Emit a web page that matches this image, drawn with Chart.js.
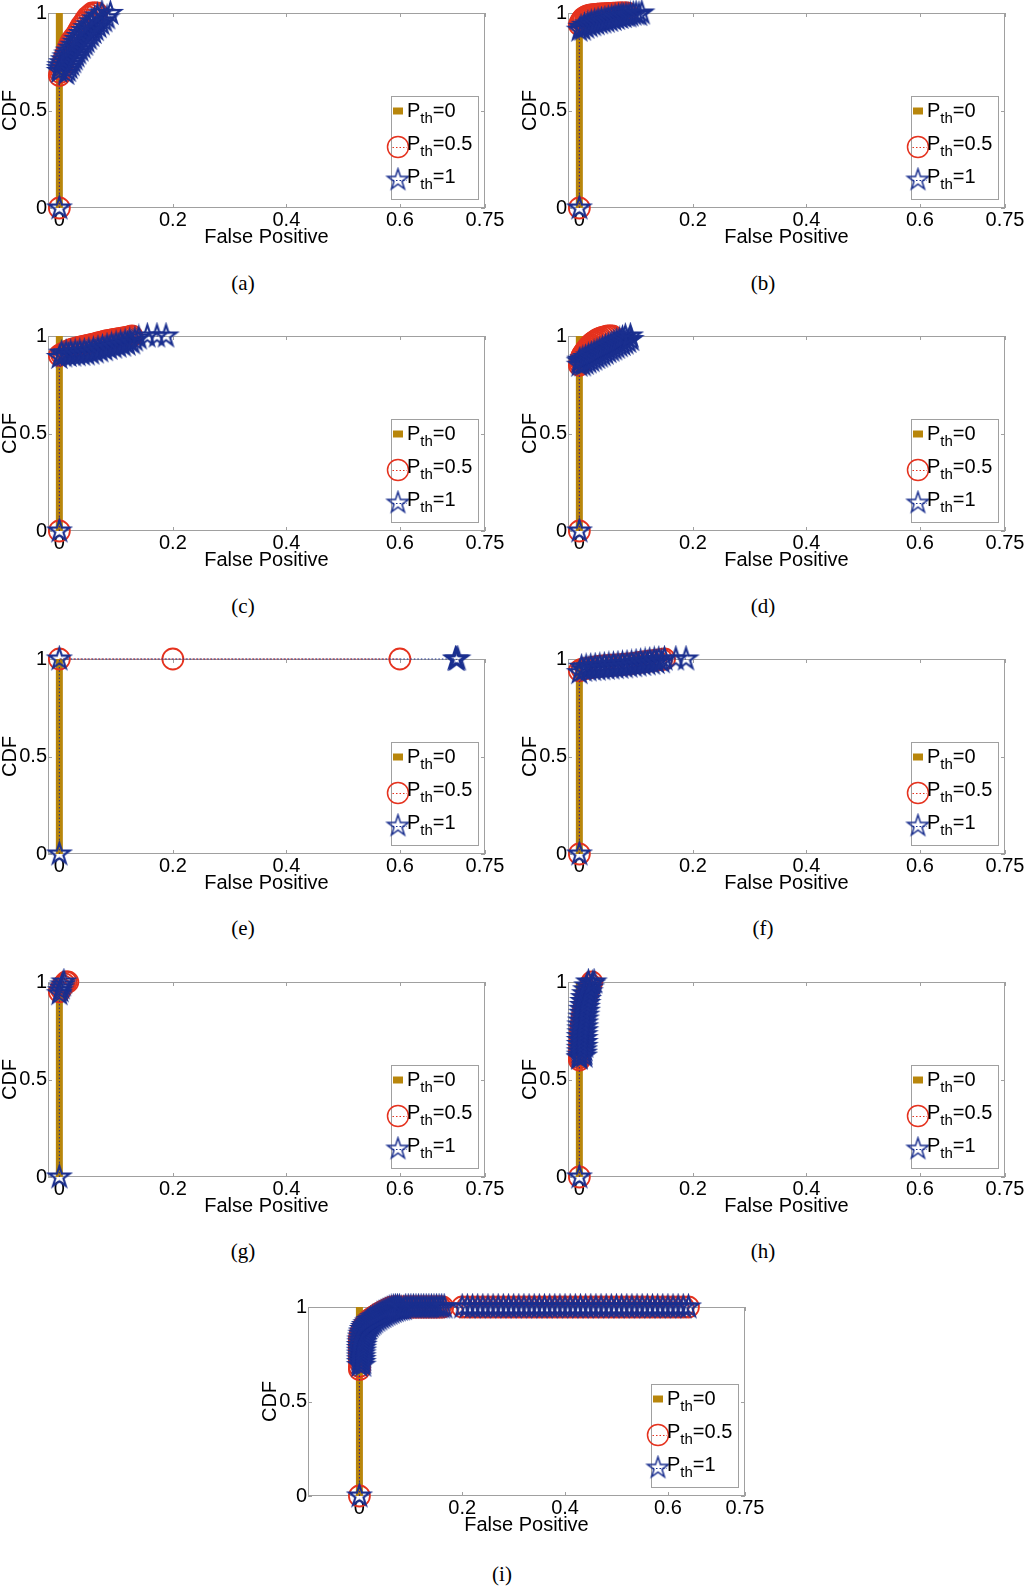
<!DOCTYPE html>
<html><head><meta charset="utf-8">
<script src="https://cdn.jsdelivr.net/npm/chart.js@4.4.1/dist/chart.umd.min.js"></script>
<style>
body{margin:0;background:#fff;width:1024px;height:1587px;position:relative;overflow:hidden}
canvas{position:absolute}
.cap{position:absolute;font-family:"Liberation Serif","Times New Roman",serif;font-size:21px;transform:translate(-50%,-50%);color:#000}
</style></head><body>
<script>
// ---------- data ----------
const xTicks = [0, 0.2, 0.4, 0.6, 0.75];
const yTicks = [0, 0.5, 1];
const legendVals = ['0', '0.5', '1'];
const xTitle = 'False Positive';
const yTitle = 'CDF';
const captions = ['(a)', '(b)', '(c)', '(d)', '(e)', '(f)', '(g)', '(h)', '(i)'];

// P_th = 0 (all false positives are zero)
const th0X = [0, 0];
const th0Y = [0, 1];

// (a)
const aRedX = [0, 0, 0.0015, 0.003, 0.0045, 0.006, 0.0075, 0.009, 0.011, 0.013, 0.015, 0.017, 0.019, 0.022, 0.026, 0.03, 0.033, 0.036, 0.039, 0.043, 0.046, 0.05, 0.054, 0.058, 0.062, 0.066];
const aRedY = [0, 0.68, 0.695, 0.71, 0.725, 0.74, 0.755, 0.77, 0.785, 0.8, 0.815, 0.83, 0.845, 0.86, 0.875, 0.89, 0.905, 0.92, 0.935, 0.95, 0.965, 0.98, 0.99, 1, 1, 1];
const aBlueX = [0, 0, 0.012, 0, 0.015, 0.001, 0.018, 0.004, 0.021, 0.007, 0.024, 0.01, 0.027, 0.013, 0.03, 0.016, 0.033, 0.02, 0.037, 0.024, 0.041, 0.028, 0.045, 0.031, 0.048, 0.035, 0.052, 0.039, 0.056, 0.043, 0.06, 0.047, 0.064, 0.052, 0.069, 0.057, 0.074, 0.062, 0.079, 0.067, 0.084, 0.075, 0.09];
const aBlueY = [0, 0.7, 0.69, 0.715, 0.705, 0.73, 0.72, 0.745, 0.735, 0.76, 0.75, 0.775, 0.765, 0.79, 0.78, 0.805, 0.795, 0.82, 0.81, 0.835, 0.825, 0.85, 0.84, 0.865, 0.855, 0.88, 0.87, 0.895, 0.885, 0.91, 0.9, 0.925, 0.915, 0.94, 0.93, 0.955, 0.945, 0.97, 0.96, 0.985, 0.975, 1, 0.998];
// (b)
const bRedX = [0, 0, 0.002, 0.004, 0.006, 0.008, 0.011, 0.014, 0.017, 0.02, 0.024, 0.028, 0.032, 0.036, 0.04, 0.044, 0.048, 0.052, 0.056, 0.06, 0.064, 0.068, 0.072, 0.076, 0.08, 0.084];
const bRedY = [0, 0.94, 0.952, 0.962, 0.97, 0.976, 0.981, 0.985, 0.988, 0.99, 0.992, 0.993, 0.994, 0.995, 0.996, 0.997, 0.997, 0.998, 0.998, 0.999, 0.999, 1, 1, 1, 1, 1];
const bBlueX = [0, 0, 0.003, 0.006, 0.009, 0.012, 0.015, 0.018, 0.021, 0.024, 0.027, 0.03, 0.033, 0.036, 0.039, 0.042, 0.045, 0.048, 0.051, 0.054, 0.057, 0.06, 0.063, 0.066, 0.069, 0.072, 0.075, 0.078, 0.082, 0.086, 0.09, 0.095, 0.1, 0.105, 0.11];
const bBlueY = [0, 0.912, 0.927, 0.917, 0.937, 0.927, 0.944, 0.934, 0.95, 0.94, 0.955, 0.945, 0.96, 0.95, 0.964, 0.954, 0.968, 0.958, 0.972, 0.962, 0.976, 0.967, 0.98, 0.972, 0.983, 0.977, 0.986, 0.982, 0.988, 0.985, 0.99, 0.994, 0.996, 0.992, 1];
// (c)
const cRedX = [0, 0, 0.004, 0.008, 0.012, 0.016, 0.02, 0.024, 0.028, 0.032, 0.036, 0.04, 0.044, 0.048, 0.052, 0.056, 0.06, 0.064, 0.068, 0.072, 0.076, 0.08, 0.084, 0.088, 0.092, 0.096, 0.1, 0.104, 0.108, 0.112, 0.116, 0.12, 0.124, 0.128];
const cRedY = [0, 0.9, 0.907, 0.913, 0.919, 0.925, 0.93, 0.934, 0.937, 0.94, 0.943, 0.946, 0.948, 0.95, 0.953, 0.956, 0.958, 0.961, 0.964, 0.967, 0.97, 0.973, 0.976, 0.978, 0.98, 0.982, 0.984, 0.986, 0.988, 0.99, 0.992, 0.994, 0.997, 1];
const cBlueX = [0, 0, 0.004, 0.008, 0.012, 0.016, 0.02, 0.024, 0.028, 0.032, 0.036, 0.04, 0.044, 0.048, 0.052, 0.056, 0.06, 0.064, 0.068, 0.072, 0.076, 0.08, 0.084, 0.088, 0.092, 0.096, 0.1, 0.104, 0.108, 0.112, 0.116, 0.12, 0.124, 0.128, 0.133, 0.14, 0.155, 0.172, 0.188];
const cBlueY = [0, 0.89, 0.912, 0.898, 0.914, 0.9, 0.916, 0.902, 0.918, 0.904, 0.92, 0.906, 0.922, 0.908, 0.925, 0.912, 0.93, 0.918, 0.936, 0.924, 0.942, 0.93, 0.948, 0.937, 0.954, 0.943, 0.96, 0.948, 0.965, 0.953, 0.97, 0.958, 0.975, 0.965, 0.98, 0.99, 1, 1, 1];
// (d)
const dRedX = [0, 0, 0.001, 0.002, 0.003, 0.004, 0.005, 0.006, 0.008, 0.01, 0.012, 0.014, 0.016, 0.018, 0.02, 0.023, 0.026, 0.029, 0.032, 0.035, 0.038, 0.042, 0.046, 0.05, 0.054, 0.058];
const dRedY = [0, 0.85, 0.862, 0.874, 0.884, 0.892, 0.899, 0.905, 0.913, 0.921, 0.929, 0.937, 0.944, 0.951, 0.957, 0.965, 0.971, 0.977, 0.982, 0.986, 0.99, 0.994, 0.997, 1, 1, 1];
const dBlueX = [0, 0, 0, 0.006, 0.001, 0.011, 0.006, 0.016, 0.011, 0.021, 0.016, 0.026, 0.021, 0.031, 0.026, 0.036, 0.031, 0.041, 0.036, 0.046, 0.041, 0.051, 0.046, 0.056, 0.051, 0.061, 0.056, 0.066, 0.061, 0.071, 0.066, 0.076, 0.071, 0.081, 0.076, 0.086, 0.081, 0.091, 0.09];
const dBlueY = [0, 0.85, 0.868, 0.852, 0.876, 0.86, 0.883, 0.867, 0.89, 0.874, 0.898, 0.882, 0.906, 0.89, 0.913, 0.897, 0.92, 0.904, 0.928, 0.912, 0.936, 0.92, 0.943, 0.927, 0.95, 0.934, 0.958, 0.942, 0.966, 0.95, 0.973, 0.957, 0.98, 0.964, 0.988, 0.972, 0.998, 0.982, 1];
// (e)
const eRedX = [0, 0.2, 0.6];
const eRedY = [1, 1, 1];
const eBlueX = [0, 0, 0.698, 0.7, 0.702];
const eBlueY = [0, 1, 1, 0.998, 1];
// (f)
const fRedX = [0, 0, 0.005, 0.012, 0.02, 0.028, 0.036, 0.045, 0.055, 0.065, 0.075, 0.085, 0.095, 0.105, 0.115, 0.125, 0.135, 0.145, 0.15];
const fRedY = [0, 0.94, 0.948, 0.952, 0.956, 0.96, 0.963, 0.966, 0.968, 0.97, 0.972, 0.975, 0.978, 0.982, 0.986, 0.99, 0.994, 0.998, 1];
const fBlueX = [0, 0, 0.004, 0.008, 0.012, 0.016, 0.02, 0.024, 0.028, 0.032, 0.036, 0.04, 0.044, 0.048, 0.052, 0.056, 0.06, 0.064, 0.068, 0.072, 0.076, 0.08, 0.084, 0.088, 0.092, 0.096, 0.1, 0.104, 0.108, 0.112, 0.116, 0.12, 0.124, 0.128, 0.132, 0.136, 0.14, 0.145, 0.15, 0.17, 0.188];
const fBlueY = [0, 0.93, 0.958, 0.942, 0.96, 0.944, 0.962, 0.946, 0.964, 0.948, 0.966, 0.95, 0.968, 0.952, 0.97, 0.954, 0.972, 0.956, 0.974, 0.958, 0.976, 0.96, 0.978, 0.963, 0.98, 0.966, 0.984, 0.969, 0.987, 0.972, 0.99, 0.975, 0.993, 0.978, 0.996, 0.982, 0.998, 0.986, 1, 1, 1];
// (g)
const gRedX = [0, 0.003, 0.006, 0.009, 0.012, 0.015];
const gRedY = [0.95, 0.965, 0.98, 0.99, 1, 1];
const gBlueX = [0, 0, 0.002, 0.004, 0.006, 0.008];
const gBlueY = [0, 0.94, 0.955, 0.97, 0.985, 1];
// (h)
const hRedX = [0, 0, 0, 0, 0, 0.001, 0.001, 0.001, 0.001, 0.001, 0.002, 0.002, 0.002, 0.003, 0.003, 0.004, 0.005, 0.005, 0.006, 0.007, 0.008, 0.009, 0.01, 0.011, 0.012, 0.014, 0.016, 0.018, 0.02, 0.022];
const hRedY = [0, 0.6, 0.612, 0.624, 0.636, 0.648, 0.66, 0.672, 0.686, 0.7, 0.715, 0.73, 0.745, 0.76, 0.775, 0.79, 0.805, 0.82, 0.835, 0.85, 0.865, 0.88, 0.895, 0.91, 0.925, 0.94, 0.955, 0.97, 0.985, 1];
const hBlueX = [0, 0, 0, 0.009, 0, 0.009, 0, 0.009, 0, 0.01, 0, 0.01, 0, 0.01, 0, 0.01, 0.001, 0.011, 0.001, 0.011, 0.001, 0.011, 0.002, 0.012, 0.003, 0.013, 0.004, 0.014, 0.004, 0.014, 0.005, 0.015, 0.006, 0.016, 0.007, 0.017, 0.009, 0.019, 0.011, 0.021, 0.013, 0.023, 0.016, 0.026];
const hBlueY = [0, 0.61, 0.612, 0.62, 0.625, 0.635, 0.642, 0.652, 0.66, 0.67, 0.68, 0.69, 0.7, 0.71, 0.72, 0.73, 0.74, 0.75, 0.76, 0.77, 0.78, 0.79, 0.8, 0.81, 0.82, 0.83, 0.84, 0.85, 0.86, 0.87, 0.88, 0.89, 0.9, 0.91, 0.92, 0.93, 0.94, 0.95, 0.96, 0.97, 0.98, 0.99, 1, 1];
// (i)
const iRedX = [0, 0, 0, 0, 0, 0, 0, 0, 0, 0, 0, 0, 0.001, 0.002, 0.004, 0.006, 0.008, 0.011, 0.014, 0.017, 0.02, 0.024, 0.028, 0.032, 0.036, 0.04, 0.044, 0.048, 0.052, 0.056, 0.06, 0.064, 0.068, 0.072, 0.076, 0.082, 0.087, 0.092, 0.097, 0.102, 0.107, 0.112, 0.117, 0.122, 0.127, 0.132, 0.137, 0.142, 0.147, 0.152, 0.157, 0.162];
const iRedY = [0, 0.67, 0.685, 0.711, 0.726, 0.741, 0.756, 0.771, 0.786, 0.801, 0.816, 0.831, 0.846, 0.861, 0.873, 0.886, 0.897, 0.907, 0.917, 0.926, 0.934, 0.941, 0.949, 0.956, 0.963, 0.969, 0.975, 0.981, 0.986, 0.991, 0.996, 1, 1, 1, 1, 1, 1, 1, 1, 1, 1, 1, 1, 1, 1, 1, 1, 1, 1, 1, 1, 1];
const iBlueX = [0, 0, 0, 0.007, 0, 0.007, 0, 0.007, 0, 0.007, 0, 0.007, 0, 0.008, 0, 0.008, 0.001, 0.009, 0.001, 0.009, 0.002, 0.01, 0.003, 0.011, 0.004, 0.012, 0.006, 0.014, 0.008, 0.016, 0.01, 0.018, 0.013, 0.021, 0.016, 0.024, 0.019, 0.027, 0.022, 0.03, 0.026, 0.034, 0.03, 0.038, 0.034, 0.042, 0.038, 0.046, 0.042, 0.05, 0.046, 0.054, 0.05, 0.058, 0.054, 0.062, 0.058, 0.066, 0.062, 0.07, 0.066, 0.074, 0.07, 0.078, 0.074, 0.082, 0.078, 0.086, 0.09, 0.095, 0.1, 0.105, 0.11, 0.115, 0.12, 0.125, 0.13, 0.135, 0.14, 0.145, 0.15, 0.155, 0.16, 0.165];
const iBlueY = [0, 0.69, 0.706, 0.692, 0.721, 0.707, 0.736, 0.722, 0.751, 0.737, 0.766, 0.752, 0.781, 0.767, 0.796, 0.782, 0.811, 0.797, 0.826, 0.812, 0.841, 0.827, 0.856, 0.842, 0.868, 0.854, 0.881, 0.867, 0.892, 0.878, 0.902, 0.888, 0.912, 0.898, 0.921, 0.907, 0.929, 0.915, 0.936, 0.922, 0.944, 0.93, 0.951, 0.937, 0.958, 0.944, 0.964, 0.95, 0.97, 0.956, 0.976, 0.962, 0.981, 0.967, 0.986, 0.972, 0.991, 0.977, 0.995, 0.981, 0.999, 0.985, 1, 0.988, 1, 0.99, 1, 0.992, 1, 1, 1, 1, 1, 1, 1, 1, 1, 1, 1, 1, 1, 1, 1, 1];
const iChainX = [0.2, 0.21, 0.22, 0.23, 0.24, 0.25, 0.26, 0.27, 0.28, 0.29, 0.3, 0.31, 0.32, 0.33, 0.34, 0.35, 0.36, 0.37, 0.38, 0.39, 0.4, 0.41, 0.42, 0.43, 0.44, 0.45, 0.46, 0.47, 0.48, 0.49, 0.5, 0.51, 0.52, 0.53, 0.54, 0.55, 0.56, 0.57, 0.58, 0.59, 0.6, 0.61, 0.62, 0.63, 0.64];
const iChainY = [1, 1, 1, 1, 1, 1, 1, 1, 1, 1, 1, 1, 1, 1, 1, 1, 1, 1, 1, 1, 1, 1, 1, 1, 1, 1, 1, 1, 1, 1, 1, 1, 1, 1, 1, 1, 1, 1, 1, 1, 1, 1, 1, 1, 1];

// ---------- layout / style ----------
const RED = '#e5321e', BLUE = '#1a2f8f', BROWN = '#b8860b', BOX = '#a0a0a0';
const FONT = '"Liberation Sans", Arial, Helvetica, sans-serif';
const W = 437;
const panels = [
  {L: 48,  T: 13,   H: 195, xmin: -0.02, red: [aRedX, aRedY], blue: [aBlueX, aBlueY], cap: [243, 283]},
  {L: 568, T: 13,   H: 195, xmin: -0.02, red: [bRedX, bRedY], blue: [bBlueX, bBlueY], cap: [763, 283]},
  {L: 48,  T: 336,  H: 195, xmin: -0.02, red: [cRedX, cRedY], blue: [cBlueX, cBlueY], cap: [243, 606]},
  {L: 568, T: 336,  H: 195, xmin: -0.02, red: [dRedX, dRedY], blue: [dBlueX, dBlueY], cap: [763, 606]},
  {L: 48,  T: 659,  H: 195, xmin: -0.02, red: [eRedX, eRedY], blue: [eBlueX, eBlueY], cap: [243, 928]},
  {L: 568, T: 659,  H: 195, xmin: -0.02, red: [fRedX, fRedY], blue: [fBlueX, fBlueY], cap: [763, 928]},
  {L: 48,  T: 982,  H: 195, xmin: -0.02, red: [gRedX, gRedY], blue: [gBlueX, gBlueY], cap: [243, 1251]},
  {L: 568, T: 982,  H: 195, xmin: -0.02, red: [hRedX, hRedY], blue: [hBlueX, hBlueY], cap: [763, 1251]},
  {L: 308, T: 1307, H: 189, xmin: -0.1,  red: [iRedX.concat(iChainX), iRedY.concat(iChainY)], blue: [iBlueX.concat(iChainX), iBlueY.concat(iChainY)], cap: [502, 1574]}
];

function makeStar(color, R, lw) {
  const s = Math.ceil(2 * R + 2 * lw + 2);
  const c = document.createElement('canvas');
  c.width = s; c.height = s;
  const g = c.getContext('2d');
  g.strokeStyle = color; g.lineWidth = lw; g.lineJoin = 'miter';
  const r = R * 0.382, cx = s / 2, cy = s / 2;
  g.beginPath();
  for (let k = 0; k < 10; k++) {
    const ang = -Math.PI / 2 + k * Math.PI / 5;
    const rr = k % 2 === 0 ? R : r;
    const px = cx + rr * Math.cos(ang), py = cy + rr * Math.sin(ang);
    if (k === 0) g.moveTo(px, py); else g.lineTo(px, py);
  }
  g.closePath(); g.stroke();
  return c;
}
const starImg = makeStar(BLUE, 11, 2.1);
const starLegend = makeStar(BLUE, 11, 1.5);

function pts(xs, ys) { return xs.map((v, i) => ({x: v, y: ys[i]})); }

const framePlugin = {
  id: 'frame',
  beforeDatasetsDraw(chart) {
    const {ctx, chartArea: a, scales: {x, y}} = chart;
    ctx.save();
    ctx.strokeStyle = BOX; ctx.lineWidth = 1;
    ctx.strokeRect(a.left + 0.5, a.top + 0.5, a.right - a.left - 1, a.bottom - a.top - 1);
    ctx.beginPath();
    xTicks.forEach(v => {
      const px = Math.round(x.getPixelForValue(v)) + 0.5;
      ctx.moveTo(px, a.bottom); ctx.lineTo(px, a.bottom - 4);
      ctx.moveTo(px, a.top); ctx.lineTo(px, a.top + 4);
    });
    yTicks.forEach(v => {
      const py = Math.round(y.getPixelForValue(v)) + 0.5;
      ctx.moveTo(a.left, py); ctx.lineTo(a.left + 4, py);
      ctx.moveTo(a.right, py); ctx.lineTo(a.right - 4, py);
    });
    ctx.stroke();
    ctx.restore();
  }
};

const legendPlugin = {
  id: 'pthLegend',
  afterDraw(chart) {
    const {ctx, chartArea: a} = chart;
    const lx = a.right - 94, ly = a.bottom - 112, lw = 87, lh = 103;
    ctx.save();
    ctx.fillStyle = '#fff'; ctx.fillRect(lx, ly, lw, lh);
    ctx.strokeStyle = BOX; ctx.lineWidth = 1; ctx.strokeRect(lx + 0.5, ly + 0.5, lw, lh);
    const mx = lx + 7;
    legendVals.forEach((val, i) => {
      const by = ly + 21 + i * 33;
      const my = by - (i === 0 ? 6 : 3);
      if (i === 0) {
        ctx.strokeStyle = BROWN; ctx.lineWidth = 7; ctx.setLineDash([]);
        ctx.beginPath(); ctx.moveTo(mx - 5, my); ctx.lineTo(mx + 5, my); ctx.stroke();
      } else {
        const col = i === 1 ? RED : BLUE;
        ctx.save();
        ctx.beginPath(); ctx.rect(lx + 1, ly + 1, lw - 2, lh - 2); ctx.clip();
        ctx.strokeStyle = col; ctx.lineWidth = 1; ctx.setLineDash([1.5, 2]);
        ctx.beginPath(); ctx.moveTo(mx - 9, my + 0.5); ctx.lineTo(mx + 9, my + 0.5); ctx.stroke();
        ctx.restore();
        if (i === 1) {
          ctx.strokeStyle = RED; ctx.lineWidth = 1.5; ctx.setLineDash([]);
          ctx.beginPath(); ctx.arc(mx, my, 10.5, 0, Math.PI * 2); ctx.stroke();
        } else {
          ctx.drawImage(starLegend, mx - starLegend.width / 2, my - starLegend.height / 2);
        }
      }
      ctx.fillStyle = '#000'; ctx.textBaseline = 'alphabetic'; ctx.textAlign = 'left';
      let tx = lx + 16;
      ctx.font = '20px ' + FONT; ctx.fillText('P', tx, by); tx += ctx.measureText('P').width;
      ctx.font = '15px ' + FONT; ctx.fillText('th', tx, by + 6); tx += ctx.measureText('th').width;
      ctx.font = '20px ' + FONT; ctx.fillText('=' + val, tx, by);
    });
    ctx.restore();
  }
};

panels.forEach((p, idx) => {
  const cv = document.createElement('canvas');
  cv.width = 48 + W + 30; cv.height = 14 + p.H + 45;
  cv.style.left = (p.L - 48) + 'px'; cv.style.top = (p.T - 14) + 'px';
  document.body.appendChild(cv);
  const cap = document.createElement('div');
  cap.className = 'cap'; cap.textContent = captions[idx];
  cap.style.left = p.cap[0] + 'px'; cap.style.top = p.cap[1] + 'px';
  document.body.appendChild(cap);
  const tickFont = {family: FONT, size: 20, lineHeight: 1.2};
  const titleFont = {family: FONT, size: 20, lineHeight: 1};
  new Chart(cv, {
    type: 'scatter',
    data: {datasets: [
      {label: 'Pth=0', data: pts(th0X, th0Y), showLine: true, borderColor: BROWN, borderWidth: 7, borderCapStyle: 'butt', pointRadius: 0, order: 3, clip: false},
      {label: 'Pth=0.5', data: pts(p.red[0], p.red[1]), showLine: true, borderColor: RED, borderWidth: 1, borderDash: [1.5, 2], pointStyle: 'circle', pointRadius: 10.5, pointBorderColor: RED, pointBackgroundColor: 'rgba(0,0,0,0)', pointBorderWidth: 1.8, order: 2, clip: false},
      {label: 'Pth=1', data: pts(p.blue[0], p.blue[1]), showLine: true, borderColor: BLUE, borderWidth: 1, borderDash: [1.5, 2], pointStyle: starImg, pointRadius: 11, pointBorderColor: BLUE, order: 1, clip: false}
    ]},
    options: {
      responsive: false, animation: false, devicePixelRatio: 1, events: [],
      layout: {padding: {top: 14, right: 30, bottom: 6, left: 0}},
      plugins: {legend: {display: false}, tooltip: {enabled: false}},
      scales: {
        x: {
          type: 'linear', min: p.xmin, max: 0.75,
          afterBuildTicks: s => { s.ticks = xTicks.map(v => ({value: v})); },
          afterFit: s => { s.height = 39; },
          grid: {display: false, drawTicks: false}, border: {display: false},
          ticks: {autoSkip: false, maxRotation: 0, padding: 0, color: '#000', font: tickFont, callback: v => String(v)},
          title: {display: true, text: xTitle, color: '#000', font: titleFont, padding: 0}
        },
        y: {
          type: 'linear', min: 0, max: 1,
          afterBuildTicks: s => { s.ticks = yTicks.map(v => ({value: v})); },
          afterFit: s => { s.width = 48; },
          grid: {display: false, drawTicks: false}, border: {display: false},
          ticks: {autoSkip: false, padding: 1, color: '#000', font: tickFont, callback: v => String(v)},
          title: {display: true, text: yTitle, color: '#000', font: titleFont, padding: 0}
        }
      }
    },
    plugins: [framePlugin, legendPlugin]
  });
});
</script>
</body></html>
